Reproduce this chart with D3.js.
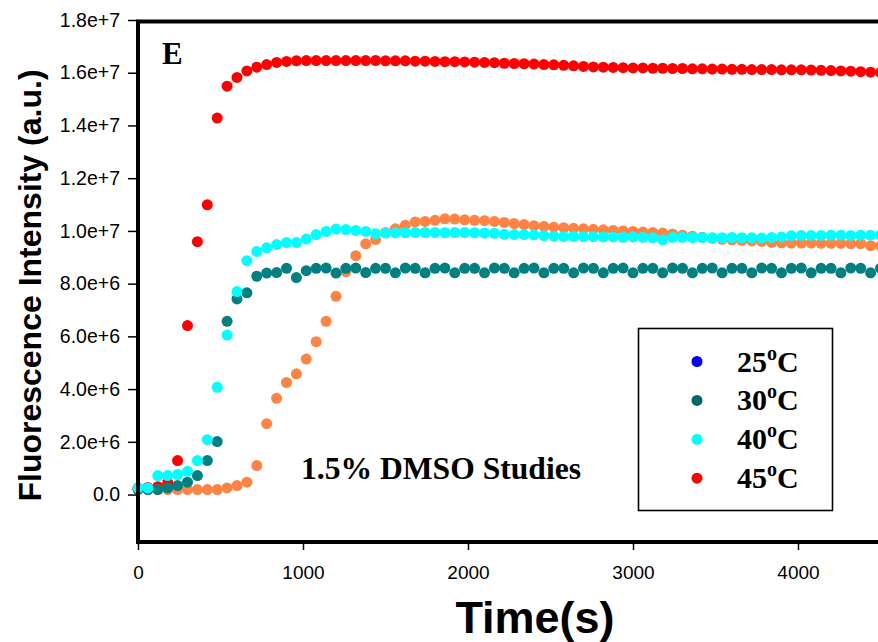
<!DOCTYPE html>
<html>
<head>
<meta charset="utf-8">
<script src="https://cdn.jsdelivr.net/npm/d3@7/dist/d3.min.js"></script>
<style>
  html, body { margin: 0; padding: 0; background: #fff; }
  svg { display: block; }
</style>
</head>
<body>
<svg id="chart" width="878" height="642"></svg>
<script>
// Sampling times (s)
const times = [0,60,120,180,240,300,360,420,480,540,600,660,720,780,840,900,960,1020,1080,1140,
  1200,1260,1320,1380,1440,1500,1560,1620,1680,1740,1800,1860,1920,1980,2040,2100,2160,2220,2280,2340,
  2400,2460,2520,2580,2640,2700,2760,2820,2880,2940,3000,3060,3120,3180,3240,3300,3360,3420,3480,3540,
  3600,3660,3720,3780,3840,3900,3960,4020,4080,4140,4200,4260,4320,4380,4440,4500];

// Fluorescence intensity, in units of 1e6 a.u.
const t25 = [0.20,0.19,0.19,0.19,0.19,0.19,0.19,0.19,0.19,0.25,0.34,0.47,1.10,2.69,3.65,4.25,4.58,5.14,5.80,6.57,
  7.52,8.46,9.06,9.51,9.67,9.94,10.08,10.21,10.34,10.36,10.40,10.46,10.45,10.42,10.40,10.39,10.36,10.32,10.28,10.24,
  10.20,10.17,10.14,10.12,10.10,10.08,10.06,10.04,10.02,10.00,9.98,9.96,9.94,9.92,9.88,9.84,9.80,9.76,9.72,9.68,
  9.66,9.64,9.62,9.60,9.57,9.55,9.54,9.54,9.54,9.53,9.53,9.53,9.52,9.52,9.44,9.43];

const t30 = [0.20,0.19,0.19,0.25,0.34,0.47,0.72,1.29,2.01,6.57,7.42,7.65,8.28,8.40,8.42,8.58,8.23,8.49,8.58,8.59,
  8.40,8.58,8.59,8.42,8.58,8.58,8.41,8.59,8.58,8.41,8.58,8.59,8.41,8.58,8.58,8.41,8.59,8.58,8.41,8.58,
  8.59,8.41,8.58,8.58,8.41,8.59,8.58,8.41,8.58,8.59,8.41,8.58,8.58,8.41,8.59,8.58,8.41,8.58,8.59,8.41,
  8.58,8.58,8.41,8.59,8.58,8.41,8.58,8.59,8.41,8.58,8.58,8.41,8.59,8.58,8.41,8.58];

const t40 = [0.25,0.25,0.72,0.72,0.76,0.88,1.29,2.08,4.07,6.05,7.70,8.87,9.22,9.36,9.48,9.56,9.56,9.69,9.86,9.98,
  10.07,10.05,10.02,9.98,9.89,9.92,9.93,9.93,9.94,9.94,9.94,9.93,9.94,9.94,9.93,9.92,9.91,9.87,9.86,9.86,
  9.85,9.82,9.80,9.79,9.79,9.78,9.78,9.77,9.77,9.76,9.77,9.76,9.74,9.66,9.76,9.76,9.75,9.75,9.74,9.74,
  9.75,9.74,9.74,9.73,9.75,9.77,9.82,9.83,9.83,9.83,9.84,9.84,9.83,9.84,9.84,9.84];

const t45 = [0.25,0.27,0.30,0.45,1.29,6.41,9.59,10.99,14.28,15.49,15.82,16.07,16.21,16.31,16.39,16.43,16.45,16.46,16.46,16.46,
  16.46,16.46,16.46,16.46,16.46,16.45,16.45,16.45,16.44,16.44,16.43,16.42,16.42,16.41,16.40,16.39,16.38,16.36,16.35,16.34,
  16.33,16.31,16.30,16.28,16.26,16.24,16.22,16.21,16.20,16.19,16.18,16.18,16.17,16.17,16.16,16.16,16.15,16.15,16.14,16.14,
  16.13,16.13,16.12,16.12,16.12,16.11,16.11,16.11,16.10,16.09,16.08,16.07,16.06,16.04,16.02,16.01];

// Axis ticks
const xTicks = [0, 1000, 2000, 3000, 4000];
const yTicks = [0, 2, 4, 6, 8, 10, 12, 14, 16, 18];
const yTickLabels = ["0.0","2.0e+6","4.0e+6","6.0e+6","8.0e+6","1.0e+7","1.2e+7","1.4e+7","1.6e+7","1.8e+7"];

// Legend entries
const legendLabels = ["25", "30", "40", "45"];
const legendColors = ["#0000ff", "#006666", "#00ffff", "#ff0000"];

const svg = d3.select("#chart");

const x = d3.scaleLinear().domain([0, 5000]).range([138, 963]);
const y = d3.scaleLinear().domain([-1.8, 18]).range([542, 20]);

const sansFont = "'Liberation Sans', Arial, Helvetica, sans-serif";
const serifFont = "'Liberation Serif', 'Times New Roman', serif";

// Data series, back to front
const series = [
  { values: t45, color: "#ff0000" },
  { values: t25, color: "#ff8444" },
  { values: t30, color: "#008080" },
  { values: t40, color: "#00ffff" }
];

const plot = svg.append("g");
series.forEach(s => {
  plot.append("g")
    .selectAll("circle")
    .data(times.map((t, i) => [t, s.values[i]]))
    .join("circle")
    .attr("cx", d => x(d[0]))
    .attr("cy", d => y(d[1]))
    .attr("r", 5.5)
    .attr("fill", s.color);
});

// Frame
const frameTop = y(18) + 1.5;
svg.append("path")
  .attr("d", `M${x(5000)},${frameTop}H${x(0)}V${y(-1.8)}H${x(5000)}`)
  .attr("fill", "none")
  .attr("stroke", "#000")
  .attr("stroke-width", 4)
  .attr("stroke-linecap", "square");

// Y axis
const yAxis = svg.append("g")
  .attr("transform", `translate(${x(0)},0)`)
  .call(d3.axisLeft(y)
    .tickValues(yTicks)
    .tickFormat((d, i) => yTickLabels[i])
    .tickSize(10)
    .tickPadding(8));
yAxis.select(".domain").remove();
yAxis.selectAll(".tick line").attr("stroke", "#000").attr("stroke-width", 1.5);
yAxis.selectAll(".tick text")
  .attr("font-family", sansFont)
  .attr("font-size", 19.5)
  .attr("fill", "#000");

// X axis
const xAxis = svg.append("g")
  .attr("transform", `translate(0,${y(-1.8)})`)
  .call(d3.axisBottom(x)
    .tickValues(xTicks)
    .tickFormat(d3.format("d"))
    .tickSize(8)
    .tickPadding(16));
xAxis.select(".domain").remove();
xAxis.selectAll(".tick line").attr("stroke", "#000").attr("stroke-width", 1.5);
xAxis.selectAll(".tick text")
  .attr("font-family", sansFont)
  .attr("font-size", 19)
  .attr("fill", "#000");

// Axis titles
svg.append("text")
  .attr("x", 535)
  .attr("y", 633)
  .attr("text-anchor", "middle")
  .attr("font-family", sansFont)
  .attr("font-weight", "bold")
  .attr("font-size", 45)
  .text("Time(s)");

svg.append("text")
  .attr("transform", "translate(41,285.5) rotate(-90)")
  .attr("text-anchor", "middle")
  .attr("font-family", sansFont)
  .attr("font-weight", "bold")
  .attr("font-size", 32)
  .text("Fluorescence Intensity (a.u.)");

// Panel letter and annotation
svg.append("text")
  .attr("x", 162)
  .attr("y", 64)
  .attr("font-family", serifFont)
  .attr("font-weight", "bold")
  .attr("font-size", 31)
  .text("E");

svg.append("text")
  .attr("x", 301)
  .attr("y", 479)
  .attr("font-family", serifFont)
  .attr("font-weight", "bold")
  .attr("font-size", 31.6)
  .text("1.5% DMSO Studies");

// Legend
const legend = svg.append("g");
legend.append("rect")
  .attr("x", 638.5)
  .attr("y", 328.5)
  .attr("width", 194)
  .attr("height", 182)
  .attr("fill", "#fff")
  .attr("stroke", "#000")
  .attr("stroke-width", 1.6);

legendLabels.forEach((lab, i) => {
  const base = 371.5 + i * 38.9;
  legend.append("circle")
    .attr("cx", 697)
    .attr("cy", base - 10)
    .attr("r", 5.5)
    .attr("fill", legendColors[i]);
  const label = legend.append("text")
    .attr("x", 737)
    .attr("y", base)
    .attr("font-family", serifFont)
    .attr("font-weight", "bold")
    .attr("font-size", 30);
  label.append("tspan").text(lab);
  label.append("tspan").attr("font-size", 20).attr("dy", -12).text("o");
  label.append("tspan").attr("dy", 12).text("C");
});
</script>
</body>
</html>
